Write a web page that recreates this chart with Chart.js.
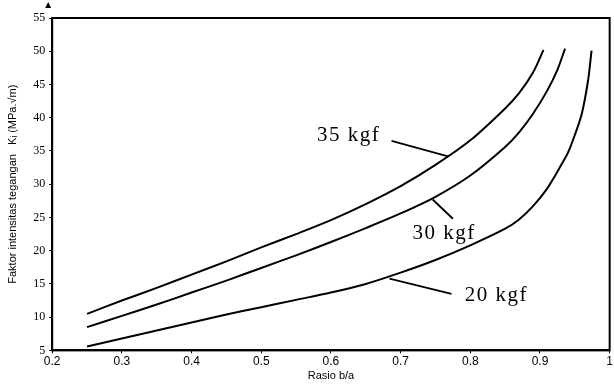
<!DOCTYPE html>
<html>
<head>
<meta charset="utf-8">
<script src="https://cdn.jsdelivr.net/npm/chart.js@4/dist/chart.umd.min.js"></script>
<style>
  html, body { margin: 0; padding: 0; background: #fff; }
  #wrap { width: 614px; height: 384px; }
</style>
</head>
<body>
<div id="wrap"><canvas id="chart"></canvas></div>
<script>
// b/a ratio vs stress intensity factor, three loads
const ratio35 = [0.25, 0.3, 0.35, 0.4, 0.45, 0.5, 0.55, 0.6, 0.65, 0.7, 0.75, 0.8, 0.85, 0.87, 0.89, 0.905];
const kgf35 = [10.5, 12.5, 14.4, 16.4, 18.4, 20.5, 22.5, 24.6, 27.0, 29.7, 32.9, 36.6, 41.4, 43.7, 46.8, 50.2];

const ratio30 = [0.25, 0.3, 0.35, 0.4, 0.45, 0.5, 0.55, 0.6, 0.65, 0.7, 0.75, 0.8, 0.85, 0.87, 0.89, 0.91, 0.925, 0.936];
const kgf30 = [8.5, 10.2, 11.9, 13.7, 15.5, 17.4, 19.3, 21.3, 23.4, 25.6, 28.1, 31.3, 35.6, 37.8, 40.6, 44.0, 47.2, 50.4];

const ratio20 = [0.25, 0.3, 0.35, 0.4, 0.45, 0.5, 0.55, 0.6, 0.65, 0.7, 0.75, 0.8, 0.85, 0.87, 0.89, 0.91, 0.93, 0.94, 0.95, 0.96, 0.969, 0.974];
const kgf20 = [5.6, 6.8, 8.0, 9.2, 10.4, 11.5, 12.6, 13.7, 15.0, 16.7, 18.6, 20.8, 23.3, 24.7, 26.7, 29.3, 32.8, 34.7, 37.4, 40.6, 45.6, 50.1];

const xTicks = [0.2, 0.3, 0.4, 0.5, 0.6, 0.7, 0.8, 0.9, 1];
const yTicks = [5, 10, 15, 20, 25, 30, 35, 40, 45, 50, 55];

// curve labels with leader lines, in data units
const curveLabels = [
    { text: '35 kgf', at: [0.58, 37.3], from: [0.687, 36.5], to: [0.768, 34.2] },
    { text: '30 kgf', at: [0.717, 22.6], from: [0.746, 27.7], to: [0.775, 24.8] },
    { text: '20 kgf', at: [0.792, 13.3], from: [0.684, 15.8], to: [0.773, 13.5] }
];

const toPoints = (xs, ys) => xs.map((x, i) => ({ x, y: ys[i] }));

const frameAndLabels = {
    id: 'frameAndLabels',
    afterDraw(chart) {
        const { ctx, chartArea: a, scales: { x, y } } = chart;
        ctx.save();
        ctx.strokeStyle = '#000';
        ctx.lineWidth = 2;
        ctx.strokeRect(a.left, a.top, a.right - a.left, a.bottom - a.top);
        // small arrow head above the y axis
        ctx.fillStyle = '#000';
        ctx.beginPath();
        ctx.moveTo(a.left - 7, a.top - 10);
        ctx.lineTo(a.left - 4, a.top - 16);
        ctx.lineTo(a.left - 1, a.top - 10);
        ctx.closePath();
        ctx.fill();

        ctx.font = '21px "Liberation Serif", serif';
        ctx.letterSpacing = '1.5px';
        ctx.textBaseline = 'middle';
        ctx.lineWidth = 1.8;
        curveLabels.forEach(l => {
            ctx.beginPath();
            ctx.moveTo(x.getPixelForValue(l.from[0]), y.getPixelForValue(l.from[1]));
            ctx.lineTo(x.getPixelForValue(l.to[0]), y.getPixelForValue(l.to[1]));
            ctx.stroke();
            ctx.fillText(l.text, x.getPixelForValue(l.at[0]), y.getPixelForValue(l.at[1]));
        });
        ctx.restore();
    }
};

const lineStyle = { borderColor: '#000', borderWidth: 2, pointRadius: 0, fill: false, tension: 0.3 };

new Chart(document.getElementById('chart'), {
    type: 'line',
    data: {
        datasets: [
            { label: '35 kgf', data: toPoints(ratio35, kgf35), ...lineStyle },
            { label: '30 kgf', data: toPoints(ratio30, kgf30), ...lineStyle },
            { label: '20 kgf', data: toPoints(ratio20, kgf20), ...lineStyle }
        ]
    },
    options: {
        responsive: true,
        maintainAspectRatio: false,
        animation: false,
        layout: { padding: { top: 18, right: 2, left: 6, bottom: 0 } },
        plugins: { legend: { display: false }, tooltip: { enabled: false } },
        scales: {
            x: {
                type: 'linear', min: 0.2, max: 1,
                afterBuildTicks: s => { s.ticks = xTicks.map(v => ({ value: v })); },
                ticks: { color: '#000', font: { family: 'Liberation Sans', size: 12 }, padding: 1, callback: v => String(v) },
                grid: { display: true, drawOnChartArea: false, color: '#000', tickLength: 3 },
                border: { color: '#000', width: 2 },
                title: { display: true, text: 'Rasio b/a', color: '#000', font: { family: 'Liberation Sans', size: 11 }, padding: { top: 0, bottom: 1 } }
            },
            y: {
                type: 'linear', min: 5, max: 55,
                afterBuildTicks: s => { s.ticks = yTicks.map(v => ({ value: v })); },
                ticks: { color: '#000', font: { family: 'Liberation Serif', size: 12 }, padding: 4 },
                grid: { display: true, drawOnChartArea: false, color: '#000', tickLength: 3 },
                border: { color: '#000', width: 2 },
                title: { display: true, text: 'Faktor intensitas tegangan   K\u1d62 (MPa.\u221am)', color: '#000', font: { family: 'Liberation Sans', size: 11 }, padding: { top: 0, bottom: 10 } }
            }
        }
    },
    plugins: [frameAndLabels]
});
</script>
</body>
</html>
